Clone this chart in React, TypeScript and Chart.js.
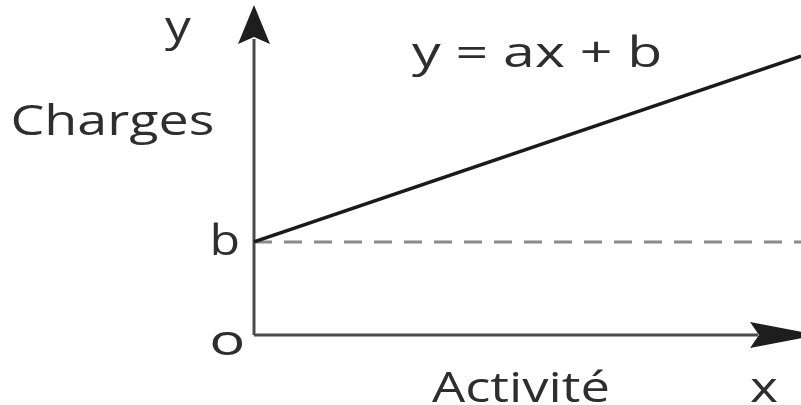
import React, { useEffect, useRef } from "react";
import { Chart, registerables } from "chart.js";
Chart.register(...registerables);

// Data (arbitrary units)
const activity = [0, 10];
const charges = [2.82, 8.45];
const fixedCharges = [2.82, 2.82];

// Annotation texts
const labelTexts = ["y", "Charges", "y = ax + b", "b", "o", "Activité", "x"];

export default function App() {
  const ref = useRef<HTMLCanvasElement | null>(null);

  useEffect(() => {
    const canvas = ref.current;
    if (!canvas) return;

    const annotations = [
      { t: labelTexts[0], left: 165, base: 41, w: 27 },
      { t: labelTexts[1], left: 13, base: 135, w: 200 },
      { t: labelTexts[2], left: 412, base: 67, w: 248 },
      { t: labelTexts[3], left: 213, base: 255, w: 25 },
      { t: labelTexts[4], left: 212, base: 355, w: 30 },
      { t: labelTexts[5], left: 432, base: 402, w: 176 },
      { t: labelTexts[6], left: 750, base: 402, w: 28 },
    ];

    const axesPlugin = {
      id: "axesArrows",
      beforeDatasetsDraw(chart: any) {
        const { ctx, chartArea } = chart;
        const x0 = chartArea.left;
        const y0 = chartArea.bottom;
        const backX = chartArea.right - 51;
        ctx.save();
        ctx.strokeStyle = "#4a4a4a";
        ctx.lineWidth = 3;
        ctx.beginPath();
        ctx.moveTo(x0, y0);
        ctx.lineTo(x0, chartArea.top + 34);
        ctx.moveTo(x0, y0);
        ctx.lineTo(backX + 8, y0);
        ctx.stroke();
        ctx.fillStyle = "#1e1e1e";
        // y arrow
        const tipY = chartArea.top;
        ctx.beginPath();
        ctx.moveTo(x0, tipY);
        ctx.lineTo(x0 - 16, tipY + 39);
        ctx.lineTo(x0, tipY + 32);
        ctx.lineTo(x0 + 16, tipY + 39);
        ctx.closePath();
        ctx.fill();
        // x arrow (tip runs past the right edge, as in the reference)
        ctx.beginPath();
        ctx.moveTo(backX + 68, y0);
        ctx.lineTo(backX, y0 - 13);
        ctx.lineTo(backX + 9, y0);
        ctx.lineTo(backX, y0 + 13);
        ctx.closePath();
        ctx.fill();
        ctx.restore();
      },
      afterDraw(chart: any) {
        const { ctx } = chart;
        ctx.save();
        ctx.fillStyle = "#2e2e2e";
        ctx.font = "42px 'Open Sans'";
        ctx.textBaseline = "alphabetic";
        ctx.textAlign = "left";
        for (const a of annotations) {
          const m = ctx.measureText(a.t);
          const glyphW = m.actualBoundingBoxRight + m.actualBoundingBoxLeft;
          const sx = a.w / glyphW;
          ctx.save();
          ctx.translate(a.left, a.base);
          ctx.scale(sx, 1);
          ctx.fillText(a.t, m.actualBoundingBoxLeft, 0);
          ctx.restore();
        }
        ctx.restore();
      },
    };

    const chart = new Chart(canvas, {
      type: "line",
      data: {
        datasets: [
          {
            data: activity.map((x, i) => ({ x, y: charges[i] })),
            borderColor: "#1a1a1a",
            borderWidth: 3.5,
            pointRadius: 0,
          },
          {
            data: activity.map((x, i) => ({ x, y: fixedCharges[i] })),
            borderColor: "#8a8a8a",
            borderWidth: 3,
            borderDash: [18, 12],
            pointRadius: 0,
          },
        ],
      },
      options: {
        responsive: false,
        animation: false,
        layout: { padding: { left: 254, right: 0, top: 5, bottom: 70 } },
        plugins: { legend: { display: false }, tooltip: { enabled: false } },
        scales: {
          x: { type: "linear", min: 0, max: 10, display: false },
          y: { type: "linear", min: 0, max: 10, display: false },
        },
      },
      plugins: [axesPlugin],
    });

    return () => chart.destroy();
  }, []);

  return (
    <div style={{ position: "absolute", left: 0, top: 0, width: 801, height: 405, background: "#fff" }}>
      <canvas ref={ref} width={801} height={405} style={{ width: 801, height: 405, display: "block" }} />
    </div>
  );
}
